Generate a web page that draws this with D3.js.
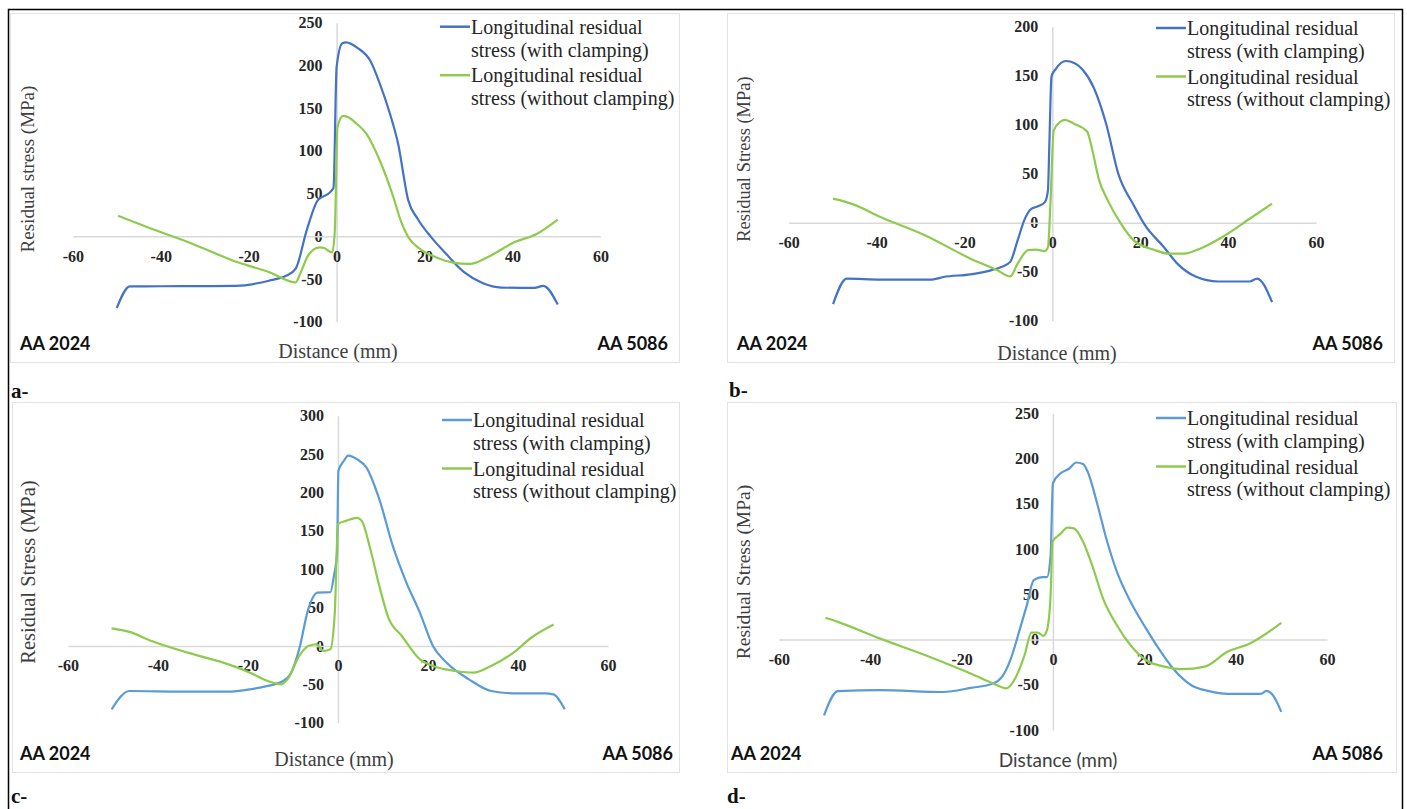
<!DOCTYPE html>
<html><head><meta charset="utf-8">
<script src="https://cdn.jsdelivr.net/npm/d3@7"></script>
<style>
html,body{margin:0;padding:0;background:#fff;}
svg{display:block;}
</style></head>
<body>
<svg id="chart" width="1407" height="809"></svg>
<script>
// ---------------- DATA ----------------
const xTicks = [-60, -40, -20, 0, 20, 40, 60];
const yTicksA = [-100, -50, 0, 50, 100, 150, 200, 250];
const yTicksB = [-100, -50, 0, 50, 100, 150, 200];
const yTicksC = [-100, -50, 0, 50, 100, 150, 200, 250, 300];
const yTicksD = [-100, -50, 0, 50, 100, 150, 200, 250];

const seriesNames = ["Longitudinal residual|stress (with clamping)", "Longitudinal residual|stress (without clamping)"];

const aWithClamping = [[-50,-84],[-47,-58.6],[-40,-58.5],[-30,-58.3],[-23,-58],[-18,-55],[-15.4,-52],[-11.4,-46],[-9.3,-38],[-6.8,7],[-4.3,42],[-1.4,52],[-0.7,57],[0,198],[1.3,226],[2.1,227],[4.9,220],[7.6,206],[9.8,179],[12.1,144],[14,108],[16.3,42],[18.5,20],[21.5,-1],[25,-21],[29,-42],[33.3,-55],[37.4,-60],[45,-60.5],[47,-58],[50.3,-80]];
const aWithoutClamping = [[-49.7,24],[-43,10.5],[-32.7,-9],[-22.5,-30.5],[-15.4,-41.8],[-9.3,-54],[-8.3,-44],[-6.3,-21],[-3.8,-13],[-2.7,-14],[-1.7,-17.6],[-1,-19],[-0.4,7],[0.2,128],[1.5,141],[2.8,139],[4.5,132],[6.8,120],[9.8,89],[12.9,46],[14.6,18],[16.3,-1],[19,-15],[22.6,-24.6],[26.2,-30.5],[30.3,-32.4],[34.3,-24.6],[40.4,-7],[45.5,2.7],[50.3,19.5]];

const bWithClamping = [[-49.9,-83],[-46.8,-57],[-39,-58],[-27.4,-58],[-24.8,-55.4],[-18.6,-52.7],[-14,-48.6],[-11.5,-45],[-9.6,-40],[-7.9,-18],[-6.4,2.4],[-4.8,14],[-3.3,16.7],[-1.7,21],[-1,33],[-0.7,77],[-0.2,149],[0.8,157],[3.1,165],[4.4,164],[6.9,156],[9.4,138],[12.3,100],[15,50],[18.5,18],[21,-2],[25.4,-25],[28.5,-42],[32.6,-55],[37.7,-60],[44.9,-60],[46.6,-57],[50,-81]];
const bWithoutClamping = [[-49.9,24.5],[-45.3,18.7],[-39.1,5.8],[-28.9,-13],[-18.6,-36.7],[-12.5,-48.6],[-9.6,-54.8],[-7.9,-41.8],[-5.5,-28],[-3.8,-27.5],[-1.7,-29],[-1,-25],[-0.4,23],[0.3,94],[1.8,103],[2.9,105],[4.9,101],[7.9,93],[9.1,74],[10.6,44],[12.7,22],[15.6,-1],[18.5,-18],[23.4,-28],[26.4,-31.6],[30,-31.6],[33.6,-26.5],[38.7,-14.6],[44.9,4],[50,19.4]];

const cWithClamping = [[-50.3,-82.6],[-46.3,-58.7],[-35,-59.5],[-24.5,-59.6],[-19.5,-56.5],[-15.6,-52],[-12.6,-47],[-10.6,-37],[-8.6,-4],[-6.6,48],[-4.5,69.6],[-1.7,70],[-0.9,91],[-0.2,122],[0.1,228],[1.3,241],[2.3,248],[4.3,243],[6.3,232.6],[9.2,191],[12.2,130],[15.2,82.6],[18.2,43.5],[21.1,0],[24.1,-21.7],[29.1,-43.5],[34,-58.7],[39,-61.7],[45.9,-61.7],[47.9,-63],[50.4,-82.6]];
const cWithoutClamping = [[-50.3,23],[-46.3,18.3],[-41.4,6.5],[-33.4,-8.7],[-25.5,-21.7],[-19.5,-34.8],[-15.6,-45.6],[-12.6,-50],[-11.1,-42.6],[-8.6,-13],[-6.6,0],[-4.7,2.2],[-3.2,-6.5],[-1.7,-4.3],[-0.7,43.5],[0,158.7],[1.8,163],[4.3,167],[5.3,163],[7.2,126],[9.2,78],[11.2,37],[14.2,13],[18.2,-17.4],[21.1,-26],[26.1,-32.6],[30.1,-34.8],[34,-26],[39,-8.7],[43,11],[47.9,28]];

const dWithClamping = [[-50.1,-83.8],[-47.1,-57],[-37.8,-56],[-24,-58],[-18,-53.5],[-13.1,-48.6],[-11.1,-41],[-9.2,-21],[-7.2,12],[-5.7,38],[-4.2,65.6],[-2.3,69],[-1.3,69],[-0.5,93],[0,172.7],[1.7,183.8],[3.6,189],[5.1,195.6],[6.6,194],[7.6,185.6],[9.6,152],[11.5,115],[14,75],[17,41.7],[20.4,12],[23.4,-11.8],[26.3,-32],[30.3,-50.5],[34.2,-57],[38.2,-60],[45.5,-60],[46.8,-56.8],[48,-60.5],[50,-80]];
const dWithoutClamping = [[-49.8,24],[-47.1,19.5],[-37.8,1],[-27.9,-17.3],[-18,-37.6],[-13.1,-48.6],[-10.2,-54],[-8.7,-46.8],[-6.2,-17.3],[-4.7,7.7],[-3.3,7.7],[-2.1,4],[-1.3,10.3],[-0.5,49],[-0.1,108],[1.7,117],[3.2,123.6],[4.6,122.9],[6.6,108],[8.6,82],[11,45],[14,15.8],[17,-6.3],[20.4,-22.9],[24.4,-30],[28.3,-32.8],[33.2,-30],[38.2,-13.6],[43.1,-4.4],[50,18.4]];

// ---------------- LAYOUT ----------------
const panels = [
  {label:"a-", box:[10,13,679,362], xr:[72.8,600.4], yr:[321.7,22.7], yd:[-100,250], yt:yTicksA,
   s1:aWithClamping, s2:aWithoutClamping, c1:"#4472C4", c2:"#8DCB4E",
   ytitle:"Residual stress (MPa)", ytx:27, yty:169, ytfs:19, xtitle:[338,351], xtSans:false,
   mat:[20,668,344], legend:[440,26.7], tag:[11,398]},
  {label:"b-", box:[727,13,1394,362], xr:[788.7,1316], yr:[320.7,26.7], yd:[-100,200], yt:yTicksB,
   s1:bWithClamping, s2:bWithoutClamping, c1:"#4472C4", c2:"#8DCB4E",
   ytitle:"Residual Stress (MPa)", ytx:744, yty:159, ytfs:18.5, xtitle:[1057,353], xtSans:false,
   mat:[737,1383,344], legend:[1156,28], tag:[729,397]},
  {label:"c-", box:[12,402,679,772], xr:[67.9,608], yr:[722.7,415.7], yd:[-100,300], yt:yTicksC,
   s1:cWithClamping, s2:cWithoutClamping, c1:"#5B9BD5", c2:"#8DCB4E",
   ytitle:"Residual Stress (MPa)", ytx:28, yty:572, ytfs:20.5, xtitle:[334,759], xtSans:false,
   mat:[20,673,754], legend:[442,420], tag:[11,803]},
  {label:"d-", box:[727,402,1396,772], xr:[778.8,1327], yr:[730,413.3], yd:[-100,250], yt:yTicksD,
   s1:dWithClamping, s2:dWithoutClamping, c1:"#5B9BD5", c2:"#8DCB4E",
   ytitle:"Residual Stress (MPa)", ytx:743, yty:572, ytfs:19.5, xtitle:[1058,760], xtSans:true,
   mat:[731,1383,754], legend:[1156,418], tag:[727,803]}
];

const svg = d3.select("#chart");
const SERIF = "'Liberation Serif','Times New Roman',serif";
const SANS = "Lato,'Open Sans',sans-serif";
const TXT = "#262626";
const fmt = d => String(d);

// outer frame
svg.append("path").attr("d","M8.5,809 L8.5,9.5 L1402.5,9.5 L1402.5,809")
  .attr("fill","none").attr("stroke","#000").attr("stroke-width",1.5);

panels.forEach(p => {
  const g = svg.append("g");
  const [bx0,by0,bx1,by1] = p.box;
  g.append("rect").attr("x",bx0+0.5).attr("y",by0+0.5).attr("width",bx1-bx0).attr("height",by1-by0)
    .attr("fill","#fff").attr("stroke","#e3e3e3").attr("stroke-width",1);

  const x = d3.scaleLinear().domain([-60,60]).range(p.xr);
  const y = d3.scaleLinear().domain(p.yd).range(p.yr);

  // y axis at x=0
  const ya = g.append("g").attr("transform",`translate(${x(0)},0)`)
    .call(d3.axisLeft(y).tickValues(p.yt).tickFormat(fmt).tickSize(0).tickSizeOuter(0).tickPadding(14));
  ya.select(".domain").attr("stroke","#d9d9d9").attr("stroke-width",1.5);
  ya.selectAll("text").attr("font-family",SERIF).attr("font-size",16).attr("font-weight","bold").attr("fill",TXT);

  // x axis at y=0
  const xa = g.append("g").attr("transform",`translate(0,${y(0)})`)
    .call(d3.axisBottom(x).tickValues(xTicks).tickFormat(fmt).tickSize(0).tickSizeOuter(0).tickPadding(14));
  xa.select(".domain").attr("stroke","#d9d9d9").attr("stroke-width",1.5);
  xa.selectAll("text").attr("font-family",SERIF).attr("font-size",16).attr("font-weight","bold").attr("fill",TXT);

  const line = d3.line().x(d=>x(d[0])).y(d=>y(d[1])).curve(d3.curveMonotoneX);
  g.append("path").datum(p.s1).attr("d",line).attr("fill","none").attr("stroke",p.c1).attr("stroke-width",2.2);
  g.append("path").datum(p.s2).attr("d",line).attr("fill","none").attr("stroke",p.c2).attr("stroke-width",2.2);

  // legend
  const [lx,ly] = p.legend;
  [[p.c1,seriesNames[0]],[p.c2,seriesNames[1]]].forEach((s,i)=>{
    const yy = ly + i*48.5;
    g.append("line").attr("x1",lx).attr("x2",lx+30).attr("y1",yy).attr("y2",yy)
      .attr("stroke",s[0]).attr("stroke-width",2.5);
    s[1].split("|").forEach((t,j)=>{
      g.append("text").attr("x",lx+31).attr("y",yy+j*22.8).attr("dy","0.35em")
        .attr("font-family",SERIF).attr("font-size",20).attr("fill",TXT).text(t);
    });
  });

  // y title
  g.append("text").attr("transform",`translate(${p.ytx},${p.yty}) rotate(-90)`)
    .attr("text-anchor","middle").attr("dy","0.35em")
    .attr("font-family",SERIF).attr("font-size",p.ytfs).attr("fill","#404040").text(p.ytitle);
  // x title
  g.append("text").attr("x",p.xtitle[0]).attr("y",p.xtitle[1]).attr("text-anchor","middle").attr("dy","0.35em")
    .attr("font-family",p.xtSans?SANS:SERIF).attr("font-size",p.xtSans?19:20).attr("fill","#404040").text("Distance (mm)");

  // materials
  g.append("text").attr("x",p.mat[0]).attr("y",p.mat[2]).attr("dy","0.35em")
    .attr("font-family",SANS).attr("font-weight","bold").attr("font-size",18).attr("fill","#111").text("AA 2024");
  g.append("text").attr("x",p.mat[1]).attr("y",p.mat[2]).attr("dy","0.35em").attr("text-anchor","end")
    .attr("font-family",SANS).attr("font-weight","bold").attr("font-size",18).attr("fill","#111").text("AA 5086");

  // panel tag
  svg.append("text").attr("x",p.tag[0]).attr("y",p.tag[1])
    .attr("font-family",SERIF).attr("font-weight","bold").attr("font-size",21).attr("fill","#111").text(p.label);
});
</script>
</body></html>
